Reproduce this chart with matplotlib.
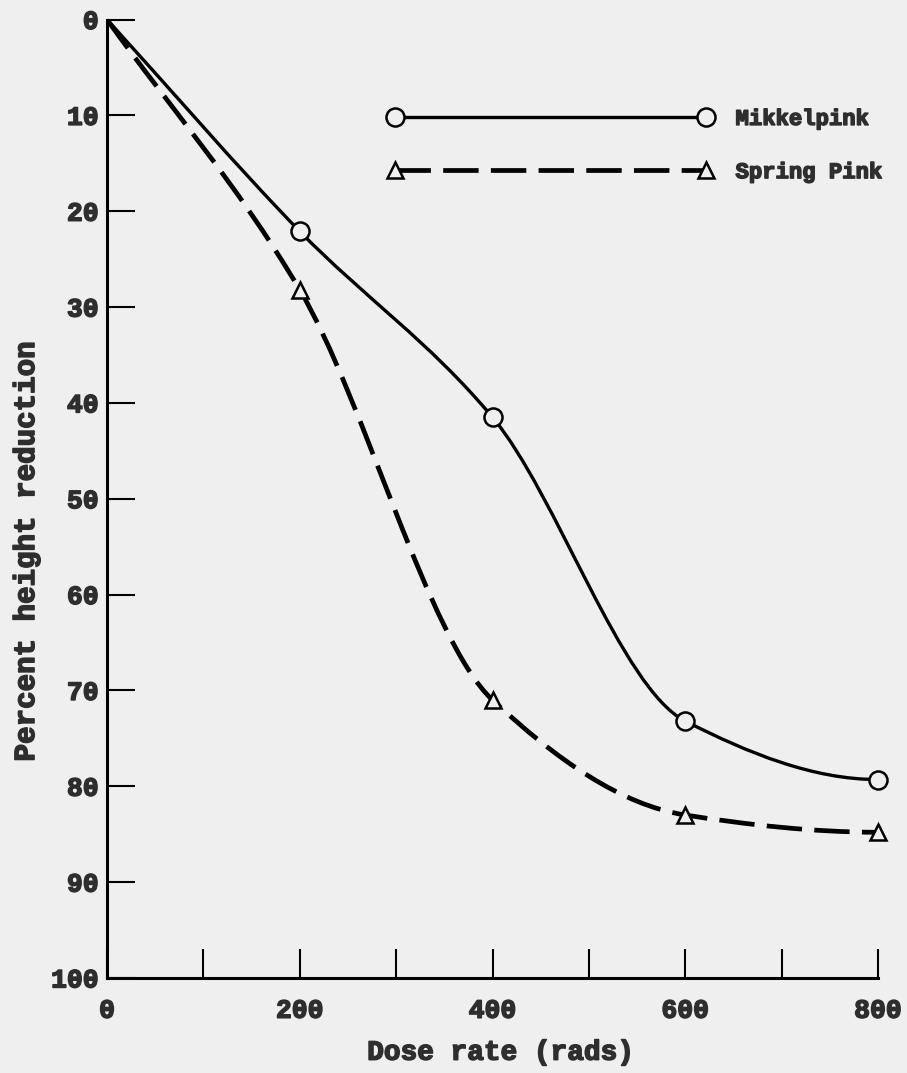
import numpy as np
import matplotlib
matplotlib.use("Agg")
import matplotlib.pyplot as plt
from matplotlib.path import Path
from matplotlib.patches import PathPatch
from matplotlib.lines import Line2D
from matplotlib.font_manager import FontProperties
import matplotlib.patheffects as pe

# ---------------- data ----------------
dose = [0, 200, 400, 600, 800]
mikkelpink = [0, 22.1, 41.5, 73.2, 79.3]
spring_pink = [0, 28.2, 71.0, 83.0, 84.8]
series_names = ["Mikkelpink", "Spring Pink"]
y_ticks = [0, 10, 20, 30, 40, 50, 60, 70, 80, 90, 100]
x_major = [0, 200, 400, 600, 800]
x_minor = [100, 300, 500, 700]
x_label = "Dose rate (rads)"
y_label = "Percent height reduction"

BG = "#efefef"
INK = "#2e2e2e"
FAM = "Liberation Mono"
THICK = [pe.withStroke(linewidth=1.1, foreground=INK)]


def smooth_path(x, y):
    """Monotone cubic (Hermite) curve through the points, as Bezier segments."""
    x = np.asarray(x, float)
    y = np.asarray(y, float)
    h = np.diff(x)
    d = np.diff(y) / h
    n = len(x)
    m = np.zeros(n)
    m[0] = d[0]
    for k in range(1, n - 1):
        if d[k - 1] * d[k] <= 0:
            m[k] = 0.0
        else:
            w1 = 2 * h[k] + h[k - 1]
            w2 = h[k] + 2 * h[k - 1]
            m[k] = (w1 + w2) / (w1 / d[k - 1] + w2 / d[k])
    me = ((2 * h[-1] + h[-2]) * d[-1] - h[-1] * d[-2]) / (h[-1] + h[-2])
    if np.sign(me) != np.sign(d[-1]):
        me = 0.0
    m[-1] = me
    verts = [(x[0], y[0])]
    codes = [Path.MOVETO]
    for k in range(n - 1):
        verts += [(x[k] + h[k] / 3, y[k] + m[k] * h[k] / 3),
                  (x[k + 1] - h[k] / 3, y[k + 1] - m[k + 1] * h[k] / 3),
                  (x[k + 1], y[k + 1])]
        codes += [Path.CURVE4] * 3
    return Path(verts, codes)


fig = plt.figure(figsize=(9.07, 10.73), dpi=100, facecolor=BG)
ax = fig.add_axes([0.118, 0.0886, 0.850, 0.8932])
ax.set_facecolor(BG)
ax.set_xlim(0, 800)
ax.set_ylim(100, 0)

for s in ("top", "right"):
    ax.spines[s].set_visible(False)
for s in ("left", "bottom"):
    ax.spines[s].set_linewidth(2.2)

ax.set_xticks(x_major)
ax.set_xticks(x_minor, minor=True)
ax.set_yticks(y_ticks)
ax.tick_params(axis="x", which="both", direction="in", length=21, width=1.5, pad=15)
ax.tick_params(axis="y", direction="in", length=20, width=1.5, pad=6)
for lab in ax.get_xticklabels() + ax.get_yticklabels():
    lab.set_fontfamily(FAM)
    lab.set_fontweight("bold")
    lab.set_fontsize(19)
    lab.set_color(INK)
    lab.set_path_effects(THICK)

# curves
LW_SOLID = 2.4
LW_DASH = 3.4
DASH = (0, (7.5, 2.6))
ax.add_patch(PathPatch(smooth_path(dose, mikkelpink), facecolor="none",
                       edgecolor="black", lw=LW_SOLID, zorder=3))
ax.add_patch(PathPatch(smooth_path(dose, spring_pink), facecolor="none",
                       edgecolor="black", lw=LW_DASH, linestyle=DASH, zorder=3))

ax.plot(dose[1:], mikkelpink[1:], ls="none", marker="o", ms=13, mfc=BG,
        mec="black", mew=1.8, zorder=4, clip_on=False)
ax.plot(dose[1:], spring_pink[1:], ls="none", marker="^", ms=12, mfc=BG,
        mec="black", mew=1.8, zorder=4, clip_on=False)

# legend
handles = [
    Line2D([], [], color="black", lw=LW_SOLID, marker="o", ms=13, mfc=BG,
           mec="black", mew=1.8),
    Line2D([], [], color="black", lw=LW_DASH, ls=DASH, marker="^", ms=12,
           mfc=BG, mec="black", mew=1.8),
]
leg = ax.legend(handles, series_names, loc="center left",
                bbox_to_anchor=(388 / 907, 1 - 146 / 1073),
                bbox_transform=fig.transFigure, frameon=False, numpoints=2,
                handlelength=14.6, handletextpad=1.04, labelspacing=1.45,
                borderpad=0, borderaxespad=0,
                prop=FontProperties(family=FAM, weight="bold", size=16))
for t in leg.get_texts():
    t.set_color(INK)
    t.set_path_effects(THICK)

# axis labels
ax.text(0.51, -0.078, x_label, transform=ax.transAxes, ha="center",
        va="center", fontfamily=FAM, fontweight="bold", fontsize=20,
        color=INK, path_effects=THICK)
ax.text(-0.105, 0.445, y_label, transform=ax.transAxes, ha="center",
        va="center", rotation=90, fontfamily=FAM, fontweight="bold",
        fontsize=21, color=INK, path_effects=THICK)

fig.savefig("out.png", dpi=100, facecolor=BG)
